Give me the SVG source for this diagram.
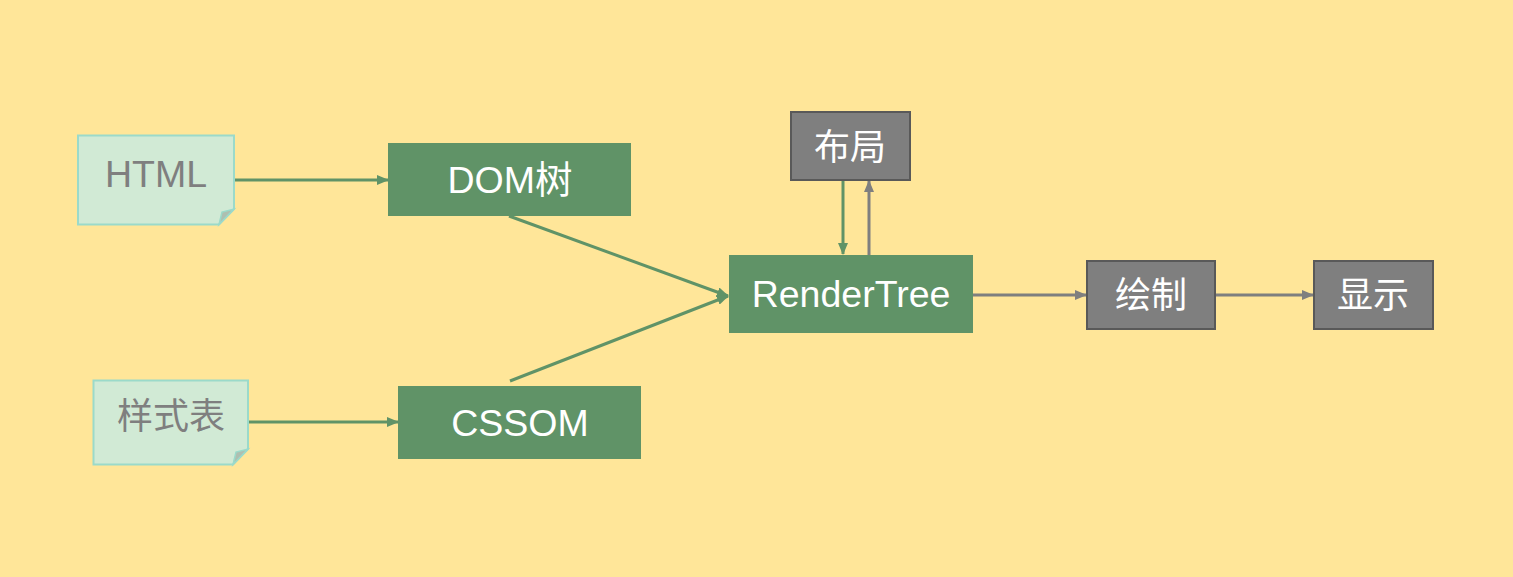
<svg xmlns="http://www.w3.org/2000/svg" width="1513" height="577" viewBox="0 0 1513 577">
<style>
.note{fill:#D1EAD5;stroke:#9BDACA;stroke-width:2}
.fold{fill:#AEBFB0;stroke:#9BDACA;stroke-width:1.5}
.gbox{fill:#609367}
.kbox{fill:#7F7F7F;stroke:#595959;stroke-width:2}
.t{font-family:"Liberation Sans","Noto Sans CJK SC",sans-serif;font-size:37.5px;text-anchor:middle}
.tc{font-size:36px}
.tw{fill:#FFFFFF}
.tg{fill:#7F7F7F}
.gl{stroke:#609367;stroke-width:3;fill:none}
.kl{stroke:#7F7F7F;stroke-width:3;fill:none}
</style>
<defs>
<marker id="ag" markerUnits="userSpaceOnUse" markerWidth="12" markerHeight="10" refX="11" refY="5" orient="auto"><path d="M0,0 L12,5 L0,10 Z" fill="#609367"/></marker>
<marker id="ak" markerUnits="userSpaceOnUse" markerWidth="12" markerHeight="10" refX="11" refY="5" orient="auto"><path d="M0,0 L12,5 L0,10 Z" fill="#7F7F7F"/></marker>
</defs>
<rect width="1513" height="577" fill="#FFE699"/>
<g id="connectors">
<line class="gl" x1="235" y1="180" x2="388" y2="180" marker-end="url(#ag)"/>
<line class="gl" x1="249" y1="422" x2="398" y2="422" marker-end="url(#ag)"/>
<line class="gl" x1="509" y1="216" x2="728" y2="296" marker-end="url(#ag)"/>
<line class="gl" x1="510" y1="381" x2="728" y2="296" marker-end="url(#ag)"/>
<line class="gl" x1="843" y1="181" x2="843" y2="254" marker-end="url(#ag)"/>
<line class="kl" x1="869" y1="257" x2="869" y2="181" marker-end="url(#ak)"/>
<line class="kl" x1="973" y1="295" x2="1086" y2="295" marker-end="url(#ak)"/>
<line class="kl" x1="1216" y1="295" x2="1313" y2="295" marker-end="url(#ak)"/>
</g>
<g id="html">
<path class="note" d="M78,135.5 H234 V209 L219,224.5 H78 Z"/>
<path class="fold" d="M219,224.5 L222,212 L234,209 Z"/>
<text class="t tg" x="156" y="187">HTML</text>
</g>
<g id="stylesheet">
<path class="note" d="M93.5,380.5 H248 V449 L233,464.5 H93.5 Z"/>
<path class="fold" d="M233,464.5 L236,452 L248,449 Z"/>
<text class="t tc tg" x="171" y="429">样式表</text>
</g>
<g id="dom">
<rect class="gbox" x="388" y="143" width="243" height="73"/>
<text class="t tw" x="510" y="193">DOM树</text>
</g>
<g id="cssom">
<rect class="gbox" x="398" y="386" width="243" height="73"/>
<text class="t tw" x="520" y="436">CSSOM</text>
</g>
<g id="rendertree">
<rect class="gbox" x="729" y="255" width="244" height="78"/>
<text class="t tw" x="851" y="307">RenderTree</text>
</g>
<g id="layout">
<rect class="kbox" x="791" y="112" width="119" height="68"/>
<text class="t tc tw" x="850" y="160">布局</text>
</g>
<g id="paint">
<rect class="kbox" x="1087" y="261" width="128" height="68"/>
<text class="t tc tw" x="1151" y="308">绘制</text>
</g>
<g id="display">
<rect class="kbox" x="1314" y="261" width="119" height="68"/>
<text class="t tc tw" x="1373" y="308">显示</text>
</g>
</svg>
